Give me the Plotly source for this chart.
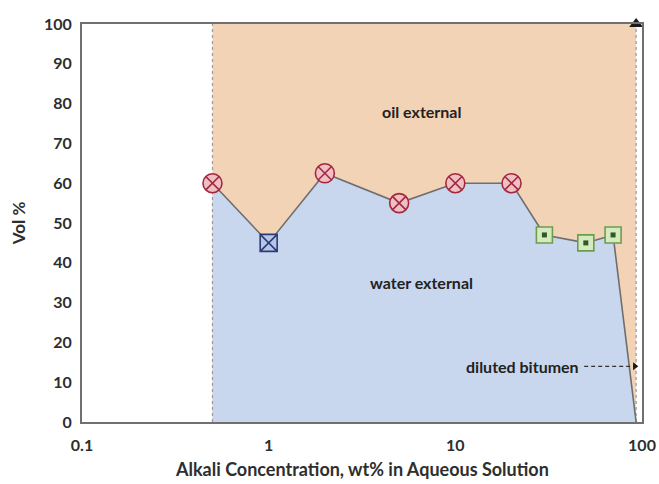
import math
import plotly.graph_objects as go

# Emulsion type vs alkali concentration
alkali_wt = [0.5, 1, 2, 5, 10, 20, 30, 50, 70]
vol_pct = [60, 45, 62.5, 55, 60, 60, 47, 45, 47]
phase_kind = ["oil", "water", "oil", "oil", "oil", "oil", "mixed", "mixed", "mixed"]

x_low = 0.5      # lowest alkali concentration tested
x_dilbit = 93    # diluted bitumen limit
x_ticks = [0.1, 1, 10, 100]
x_tick_text = ["0.1", "1", "10", "100"]
y_ticks = list(range(0, 101, 10))

ORANGE = "#F3D3B6"
BLUE = "#C8D6EE"
GREY = "#6E6E6E"
FONT = "Lato"
TXT = "#2E2E2E"

fig = go.Figure()

# oil-external region
fig.add_trace(go.Scatter(
    x=[x_low, x_low, x_dilbit, x_dilbit, x_low], y=[0, 100, 100, 0, 0],
    fill="toself", fillcolor=ORANGE, line=dict(width=0), mode="lines",
    hoverinfo="skip", showlegend=False))

# water-external region under the boundary
fig.add_trace(go.Scatter(
    x=[x_low] + alkali_wt + [x_dilbit, x_low],
    y=[0] + vol_pct + [0, 0],
    fill="toself", fillcolor=BLUE, line=dict(width=0), mode="lines",
    hoverinfo="skip", showlegend=False))

# dotted limits
for xv in (x_low, x_dilbit):
    fig.add_trace(go.Scatter(
        x=[xv, xv], y=[0, 100], mode="lines",
        line=dict(color="#9A9A9A", width=1.2, dash="dot"),
        hoverinfo="skip", showlegend=False))

# boundary line
fig.add_trace(go.Scatter(
    x=alkali_wt + [x_dilbit], y=vol_pct + [0], mode="lines",
    line=dict(color=GREY, width=1.6), showlegend=False))

styles = {
    "oil": dict(symbol="circle-x", size=19, color="#F0BFC4",
                line=dict(color="#A2283E", width=1.6)),
    "water": dict(symbol="square-x", size=17, color="#B5C6E6",
                  line=dict(color="#2C3C78", width=1.6)),
    "mixed": dict(symbol="square", size=16, color="#D6EAC2",
                  line=dict(color="#6A9F4A", width=1.6)),
}
for kind, style in styles.items():
    xs = [x for x, k in zip(alkali_wt, phase_kind) if k == kind]
    ys = [y for y, k in zip(vol_pct, phase_kind) if k == kind]
    fig.add_trace(go.Scatter(x=xs, y=ys, mode="markers", marker=style,
                             showlegend=False))
    if kind == "mixed":
        # dark centre of the mixed-type squares
        fig.add_trace(go.Scatter(
            x=xs, y=ys, mode="markers",
            marker=dict(symbol="square", size=5, color="#2F5A24"),
            showlegend=False))

# diluted bitumen end point
fig.add_trace(go.Scatter(
    x=[x_dilbit], y=[100], mode="markers",
    marker=dict(symbol="triangle-up", size=12, color="#1A1A1A"),
    showlegend=False, cliponaxis=False))

# dashed pointer to diluted bitumen
fig.add_trace(go.Scatter(
    x=[49, x_dilbit], y=[14, 14], mode="lines",
    line=dict(color="#333333", width=1.3, dash="4px,3px"),
    showlegend=False))
fig.add_trace(go.Scatter(
    x=[x_dilbit - 1.5], y=[14], mode="markers",
    marker=dict(symbol="triangle-right", size=7, color="#1A1A1A"),
    showlegend=False))

ann_font = dict(family=FONT, size=16, color="#222222")
fig.add_annotation(x=math.log10(6.6), y=78, text="<b>oil external</b>",
                   showarrow=False, font=ann_font)
fig.add_annotation(x=math.log10(6.6), y=35, text="<b>water external</b>",
                   showarrow=False, font=ann_font)
fig.add_annotation(x=math.log10(47), y=14, text="<b>diluted bitumen</b>",
                   showarrow=False, xanchor="right", font=ann_font)

# axis titles
title_font = dict(family=FONT, size=18, color=TXT)
fig.add_annotation(xref="paper", yref="paper", x=0.5, y=-0.118,
                   yanchor="middle", showarrow=False, font=title_font,
                   text="<b>Alkali Concentration, wt% in Aqueous Solution</b>")
fig.add_annotation(xref="paper", yref="paper", x=-0.114, y=0.5,
                   xanchor="center", yanchor="middle", textangle=-90,
                   showarrow=False, font=dict(family=FONT, size=17, color=TXT),
                   text="<b>Vol %</b>")

axis_common = dict(showline=True, linecolor="#707070", linewidth=2,
                   mirror=True, showgrid=False, zeroline=False, ticks="",
                   automargin=False,
                   tickfont=dict(family=FONT, size=16, color=TXT))

fig.update_xaxes(type="log", range=[-1, 2], tickvals=x_ticks,
                 ticktext=[f"<b>{t}</b>" for t in x_tick_text],
                 ticklabelstandoff=8, **axis_common)
fig.update_yaxes(range=[0, 100], tickvals=y_ticks,
                 ticktext=[f"<b>{t}</b>" for t in y_ticks],
                 ticklabelstandoff=5, **axis_common)

fig.update_layout(
    width=659, height=484,
    margin=dict(l=82, r=17, t=24, b=62),
    plot_bgcolor="white", paper_bgcolor="white",
)

fig.write_html("out.html")
